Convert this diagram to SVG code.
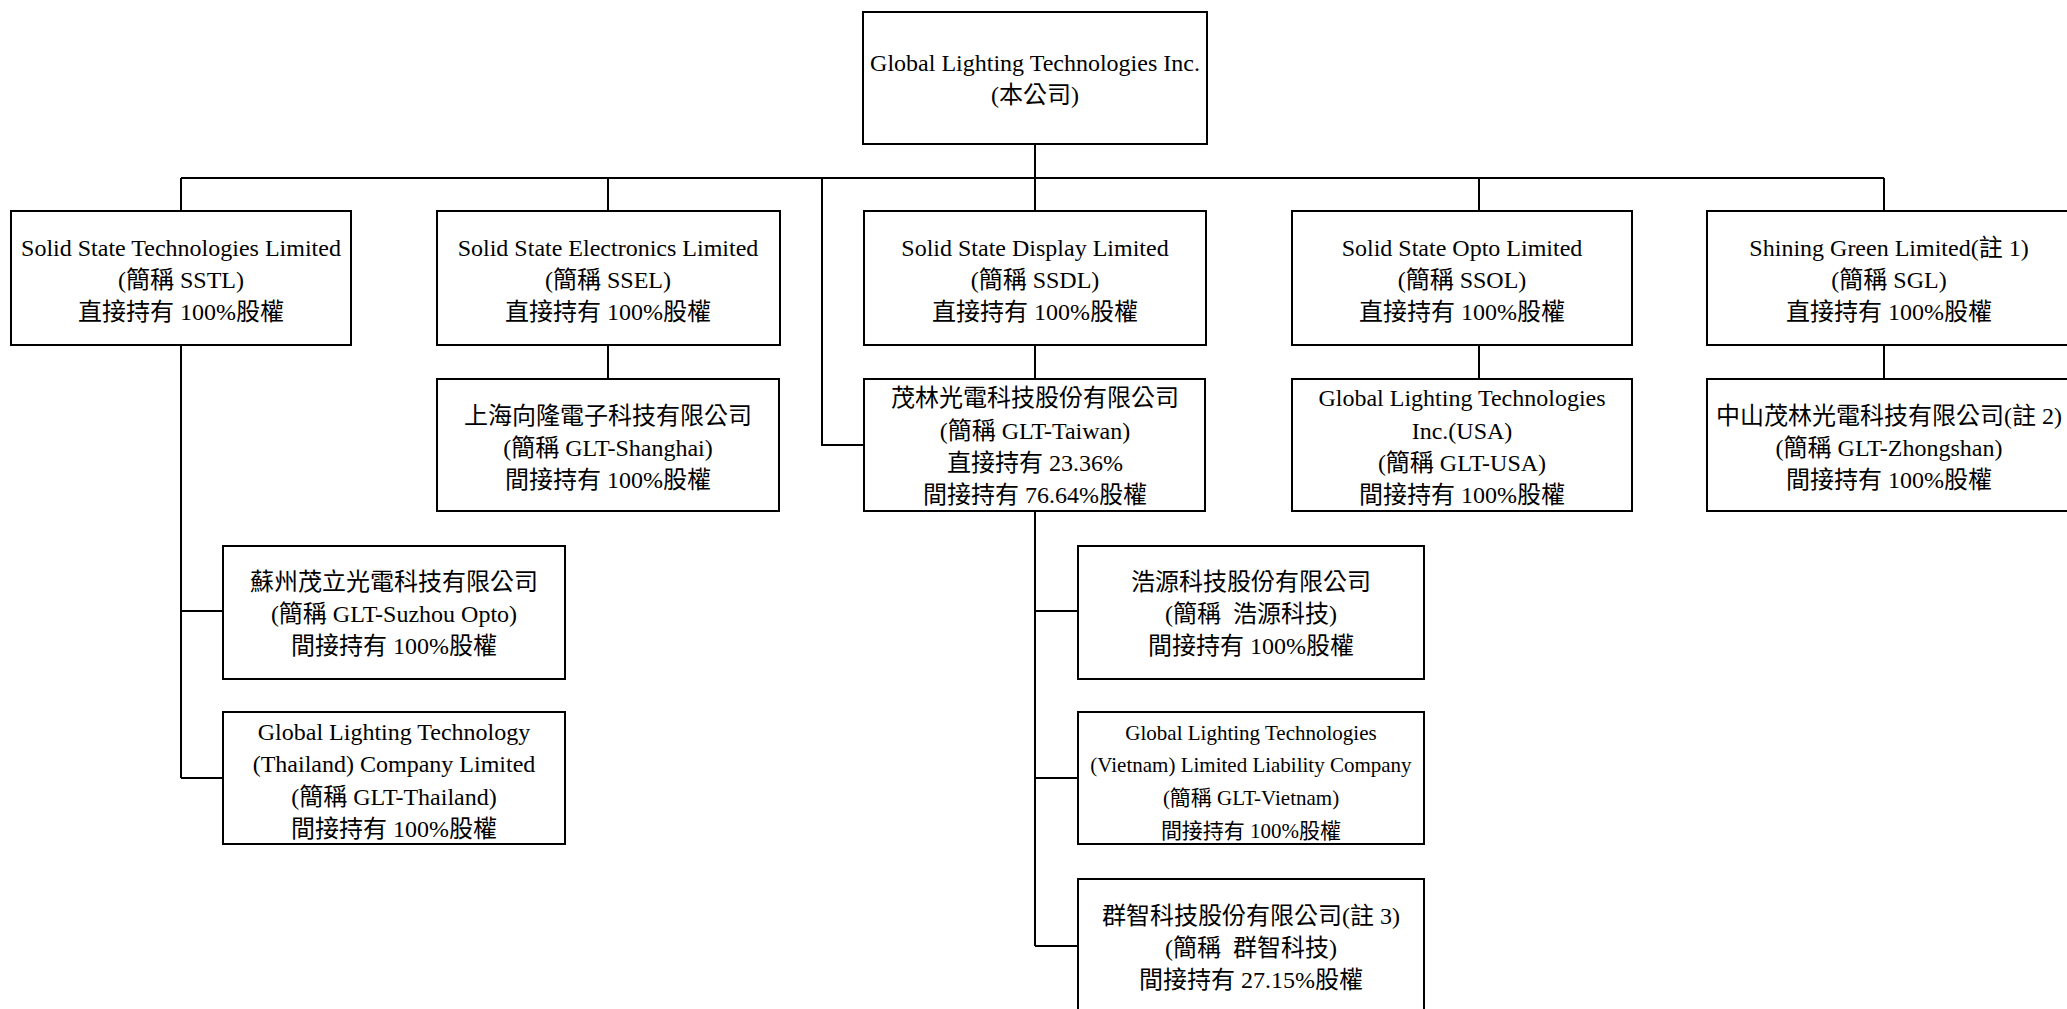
<svg xmlns="http://www.w3.org/2000/svg" width="2067" height="1009" viewBox="0 0 2067 1009">
<style>
rect.box { fill: #ffffff; stroke: #000000; stroke-width: 2; }
text { font-family: "Liberation Serif", "Noto Sans CJK TC", serif; font-size: 24px; text-anchor: middle; fill: #000000; white-space: pre; }
text.sm { font-size: 21px; }
#connectors path { fill: none; stroke: #000000; stroke-width: 2; }
</style>
<rect x="0" y="0" width="2067" height="1009" fill="#ffffff"/>
<g id="connectors">
  <path d="M1035 144 V178"/>
  <path d="M181 178 H1884"/>
  <path d="M181 178 V211 M608 178 V211 M1035 178 V211 M1479 178 V211 M1884 178 V211"/>
  <path d="M822 178 V445 H864"/>
  <path d="M608 345 V379 M1035 345 V379 M1479 345 V379 M1884 345 V379"/>
  <path d="M181 345 V778 M181 611 H223 M181 778 H223"/>
  <path d="M1035 511 V946 M1035 611 H1078 M1035 778 H1078 M1035 946 H1078"/>
</g>
<g id="glt">
  <rect class="box" x="863" y="12" width="344" height="132"/>
  <text x="1035" y="71">Global Lighting Technologies Inc.</text>
  <text x="1035" y="103">(本公司)</text>
</g>
<g id="sstl">
  <rect class="box" x="11" y="211" width="340" height="134"/>
  <text x="181" y="256">Solid State Technologies Limited</text>
  <text x="181" y="288">(簡稱 SSTL)</text>
  <text x="181" y="320">直接持有 100%股權</text>
</g>
<g id="ssel">
  <rect class="box" x="437" y="211" width="343" height="134"/>
  <text x="608" y="256">Solid State Electronics Limited</text>
  <text x="608" y="288">(簡稱 SSEL)</text>
  <text x="608" y="320">直接持有 100%股權</text>
</g>
<g id="ssdl">
  <rect class="box" x="864" y="211" width="342" height="134"/>
  <text x="1035" y="256">Solid State Display Limited</text>
  <text x="1035" y="288">(簡稱 SSDL)</text>
  <text x="1035" y="320">直接持有 100%股權</text>
</g>
<g id="ssol">
  <rect class="box" x="1292" y="211" width="340" height="134"/>
  <text x="1462" y="256">Solid State Opto Limited</text>
  <text x="1462" y="288">(簡稱 SSOL)</text>
  <text x="1462" y="320">直接持有 100%股權</text>
</g>
<g id="sgl">
  <rect class="box" x="1707" y="211" width="366" height="134"/>
  <text x="1889" y="256">Shining Green Limited(註 1)</text>
  <text x="1889" y="288">(簡稱 SGL)</text>
  <text x="1889" y="320">直接持有 100%股權</text>
</g>
<g id="glt-shanghai">
  <rect class="box" x="437" y="379" width="342" height="132"/>
  <text x="608" y="424">上海向隆電子科技有限公司</text>
  <text x="608" y="456">(簡稱 GLT-Shanghai)</text>
  <text x="608" y="488">間接持有 100%股權</text>
</g>
<g id="glt-taiwan">
  <rect class="box" x="864" y="379" width="341" height="132"/>
  <text x="1035" y="406">茂林光電科技股份有限公司</text>
  <text x="1035" y="439">(簡稱 GLT-Taiwan)</text>
  <text x="1035" y="471">直接持有 23.36%</text>
  <text x="1035" y="503">間接持有 76.64%股權</text>
</g>
<g id="glt-usa">
  <rect class="box" x="1292" y="379" width="340" height="132"/>
  <text x="1462" y="406">Global Lighting Technologies</text>
  <text x="1462" y="439">Inc.(USA)</text>
  <text x="1462" y="471">(簡稱 GLT-USA)</text>
  <text x="1462" y="503">間接持有 100%股權</text>
</g>
<g id="glt-zhongshan">
  <rect class="box" x="1707" y="379" width="366" height="132"/>
  <text x="1889" y="424">中山茂林光電科技有限公司(註 2)</text>
  <text x="1889" y="456">(簡稱 GLT-Zhongshan)</text>
  <text x="1889" y="488">間接持有 100%股權</text>
</g>
<g id="glt-suzhou">
  <rect class="box" x="223" y="546" width="342" height="133"/>
  <text x="394" y="590">蘇州茂立光電科技有限公司</text>
  <text x="394" y="622">(簡稱 GLT-Suzhou Opto)</text>
  <text x="394" y="654">間接持有 100%股權</text>
</g>
<g id="glt-thailand">
  <rect class="box" x="223" y="712" width="342" height="132"/>
  <text x="394" y="740">Global Lighting Technology</text>
  <text x="394" y="772">(Thailand) Company Limited</text>
  <text x="394" y="805">(簡稱 GLT-Thailand)</text>
  <text x="394" y="837">間接持有 100%股權</text>
</g>
<g id="haoyuan">
  <rect class="box" x="1078" y="546" width="346" height="133"/>
  <text x="1251" y="590">浩源科技股份有限公司</text>
  <text x="1251" y="622">(簡稱  浩源科技)</text>
  <text x="1251" y="654">間接持有 100%股權</text>
</g>
<g id="glt-vietnam">
  <rect class="box" x="1078" y="712" width="346" height="132"/>
  <text class="sm" x="1251" y="740">Global Lighting Technologies</text>
  <text class="sm" x="1251" y="772">(Vietnam) Limited Liability Company</text>
  <text class="sm" x="1251" y="805">(簡稱 GLT-Vietnam)</text>
  <text class="sm" x="1251" y="838">間接持有 100%股權</text>
</g>
<g id="qunzhi">
  <rect class="box" x="1078" y="879" width="346" height="140"/>
  <text x="1251" y="924">群智科技股份有限公司(註 3)</text>
  <text x="1251" y="956">(簡稱  群智科技)</text>
  <text x="1251" y="988">間接持有 27.15%股權</text>
</g>
</svg>
